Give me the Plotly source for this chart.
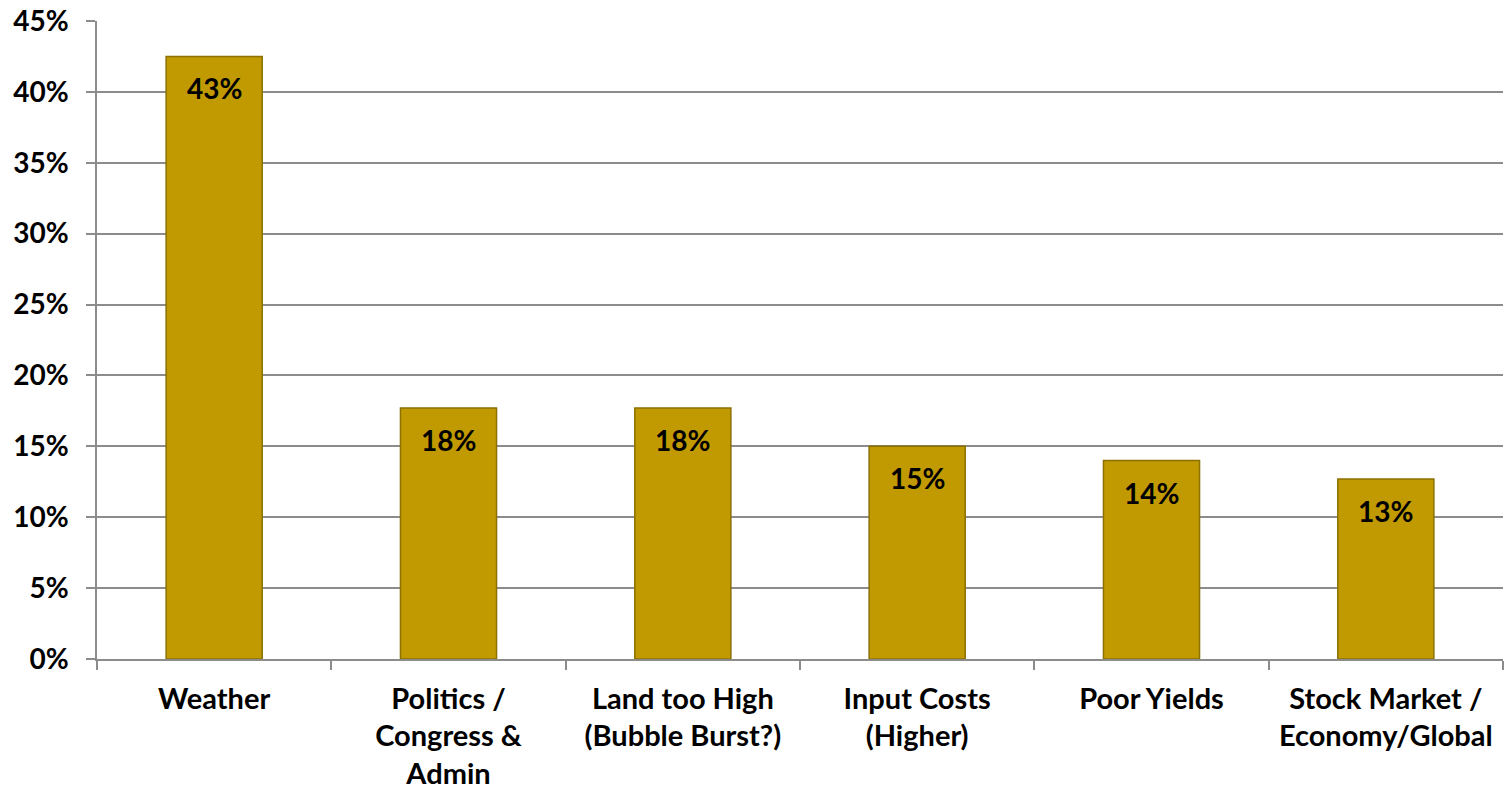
import plotly.graph_objects as go

categories = ["Weather", "Politics /<br>Congress &<br>Admin", "Land too High<br>(Bubble Burst?)",
              "Input Costs<br>(Higher)", "Poor Yields", "Stock Market /<br>Economy/Global"]
values = [0.425, 0.177, 0.177, 0.150, 0.140, 0.127]
labels = ["43%", "18%", "18%", "15%", "14%", "13%"]
y_ticks = [0, 0.05, 0.10, 0.15, 0.20, 0.25, 0.30, 0.35, 0.40, 0.45]

FONT = "Lato"

fig = go.Figure()
fig.add_trace(go.Bar(
    x=categories, y=values,
    marker=dict(color="#C09A00", line=dict(color="#8C7000", width=1.5)),
    width=0.41,
    hoverinfo="skip",
))
for c, v, t in zip(categories, values, labels):
    fig.add_annotation(x=c, y=v, text=f"<b>{t}</b>", showarrow=False,
                       yshift=-32, font=dict(family=FONT, size=28, color="#000000"))

fig.update_layout(
    width=1507, height=790,
    margin=dict(l=97, r=4, t=21, b=131, autoexpand=False),
    plot_bgcolor="#FFFFFF", paper_bgcolor="#FFFFFF",
    showlegend=False,
    font=dict(family=FONT, size=28, color="#000000"),
)
fig.update_xaxes(
    tickson="boundaries", ticks="outside", ticklen=9, tickcolor="#8C8C8C", tickwidth=1.5,
    showline=True, linecolor="#8C8C8C", linewidth=1.5,
    tickfont=dict(family=FONT, size=29, color="#000000", weight="bold"),
    ticklabelstandoff=13, automargin=False,
    showgrid=False,
)
fig.update_yaxes(
    range=[0, 0.45], tickvals=y_ticks, tickformat=".0%",
    ticks="outside", ticklen=9, tickcolor="#8C8C8C", tickwidth=1.5,
    showline=True, linecolor="#8C8C8C", linewidth=1.5,
    showgrid=True, gridcolor="#8C8C8C", gridwidth=1.5, zeroline=False,
    tickfont=dict(family=FONT, size=28, color="#000000", weight="bold"),
    ticklabelstandoff=12, automargin=False,
)
fig.write_html("out.html", config={"displayModeBar": False},
               post_script="document.body.style.margin='0';document.body.style.overflow='hidden';")
